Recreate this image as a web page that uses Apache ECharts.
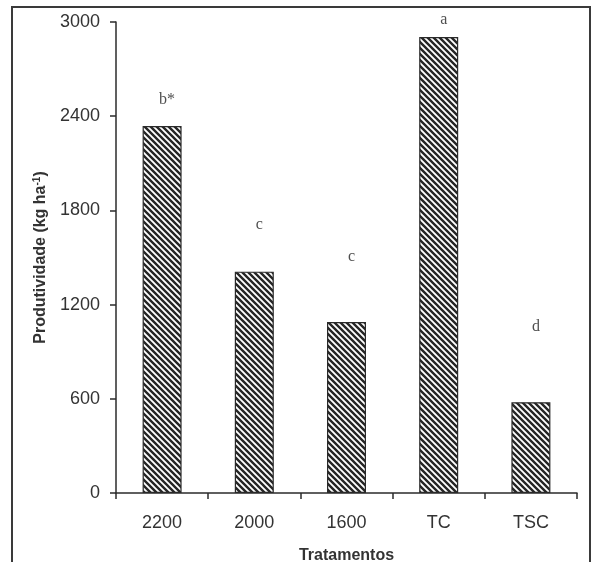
<!DOCTYPE html>
<html>
<head>
<meta charset="utf-8">
<script src="https://cdn.jsdelivr.net/npm/echarts@6/dist/echarts.min.js"></script>
<style>
html,body{margin:0;padding:0;background:#fff;}
#chart{width:593px;height:562px;}
</style>
</head>
<body>
<div id="chart"></div>
<script>
var categories = ['2200', '2000', '1600', 'TC', 'TSC'];
var productivity = [2338, 1410, 1089, 2904, 578];
var letters = ['b*', 'c', 'c', 'a', 'd'];
var letterHeights = [2505, 1707, 1503, 3012, 1057];
var yTicks = [0, 600, 1200, 1800, 2400, 3000];

function makeHatch() {
  var s = 6;
  var c = document.createElement('canvas');
  c.width = s; c.height = s;
  var ctx = c.getContext('2d');
  ctx.fillStyle = '#ffffff';
  ctx.fillRect(0, 0, s, s);
  ctx.strokeStyle = '#262626';
  ctx.lineWidth = 2.4;
  ctx.beginPath();
  ctx.moveTo(-1, -1); ctx.lineTo(s + 1, s + 1);
  ctx.moveTo(-1, s - 1); ctx.lineTo(1, s + 1);
  ctx.moveTo(s - 1, -1); ctx.lineTo(s + 1, 1);
  ctx.stroke();
  return c;
}

var chart = echarts.init(document.getElementById('chart'), null, {renderer: 'canvas'});
var axisColor = '#2b2b2b';
var sans = 'Liberation Sans, Arial, sans-serif';
var option = {
  backgroundColor: '#ffffff',
  animation: false,
  graphic: [{
    type: 'rect',
    shape: {x: 12, y: 7, width: 578, height: 600},
    style: {fill: 'none', stroke: '#3a3a3a', lineWidth: 2},
    silent: true
  }],
  grid: {left: 116, right: 16, top: 22, bottom: 69, containLabel: false, outerBoundsMode: 'none'},
  xAxis: {
    type: 'category',
    data: categories,
    boundaryGap: true,
    axisLine: {lineStyle: {color: axisColor, width: 1.5}},
    axisTick: {show: true, length: 6, alignWithLabel: false, lineStyle: {color: axisColor, width: 1.5}},
    axisLabel: {color: '#333', fontSize: 18, fontFamily: sans, margin: 21},
    name: 'Tratamentos',
    nameLocation: 'middle',
    nameGap: 55,
    nameTextStyle: {color: '#333', fontSize: 16, fontWeight: 'bold', fontFamily: sans}
  },
  yAxis: {
    type: 'value',
    min: yTicks[0],
    max: yTicks[yTicks.length - 1],
    interval: yTicks[1] - yTicks[0],
    splitLine: {show: false},
    axisLine: {show: true, lineStyle: {color: axisColor, width: 1.5}},
    axisTick: {show: true, length: 6, lineStyle: {color: axisColor, width: 1.5}},
    axisLabel: {color: '#333', fontSize: 18, fontFamily: sans, margin: 16, formatter: function (v) { return String(v); }},
    name: 'Produtividade (kg ha{sup|-1})',
    nameLocation: 'middle',
    nameGap: 66,
    nameRotate: 90,
    nameTextStyle: {
      color: '#333', fontSize: 16, fontWeight: 'bold', fontFamily: sans,
      rich: {sup: {fontSize: 10, fontWeight: 'bold', verticalAlign: 'top', padding: [0, 0, 7, 0], fontFamily: sans, color: '#333'}}
    }
  },
  series: [{
    type: 'bar',
    data: productivity,
    barWidth: 39,
    itemStyle: {
      color: {image: makeHatch(), repeat: 'repeat'},
      borderColor: '#2a2a2a',
      borderWidth: 1.2
    }
  }, {
    type: 'scatter',
    clip: false,
    symbolSize: 2,
    itemStyle: {color: 'rgba(0,0,0,0)'},
    data: letterHeights.map(function (v, i) { return {value: [i, v], name: letters[i]}; }),
    label: {
      show: true,
      position: 'inside',
      offset: [5, 0],
      formatter: function (p) { return p.name; },
      color: '#222',
      fontSize: 16,
      fontFamily: 'Liberation Serif, Times New Roman, serif'
    }
  }]
};
chart.setOption(option);
</script>
</body>
</html>
